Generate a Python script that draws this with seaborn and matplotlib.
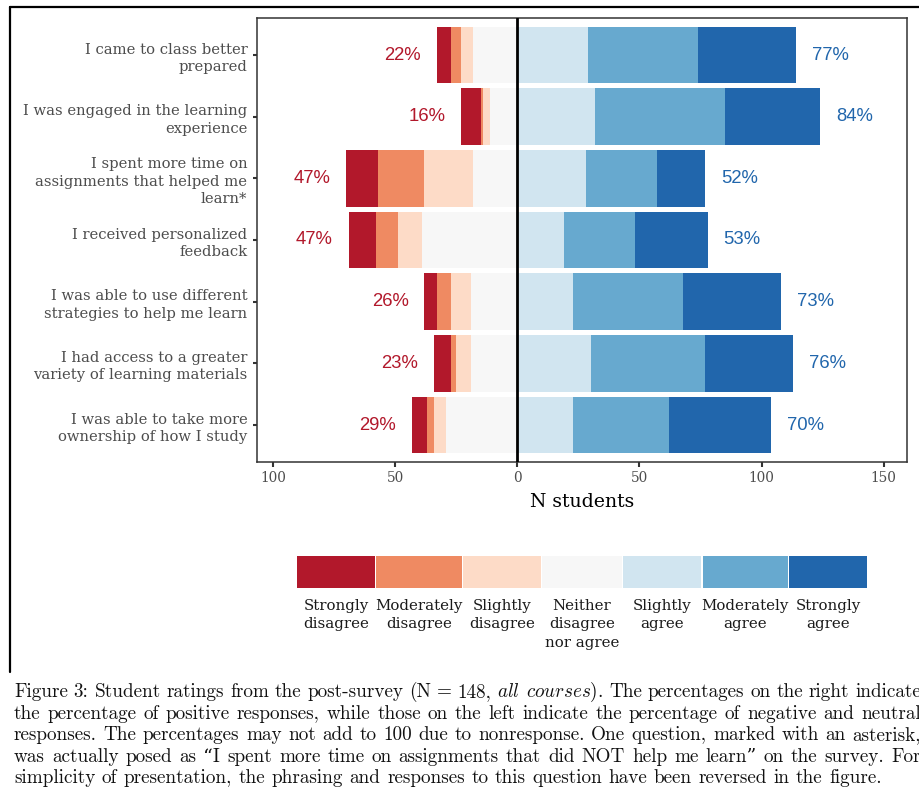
import numpy as np
import pandas as pd
import matplotlib
matplotlib.use("Agg")
import matplotlib.pyplot as plt
import seaborn as sns
from matplotlib.lines import Line2D
from matplotlib.patches import Rectangle

# ---------------- data ----------------
questions = [
    "I came to class better\nprepared",
    "I was engaged in the learning\nexperience",
    "I spent more time on\nassignments that helped me\nlearn*",
    "I received personalized\nfeedback",
    "I was able to use different\nstrategies to help me learn",
    "I had access to a greater\nvariety of learning materials",
    "I was able to take more\nownership of how I study",
]
levels = ["Strongly\ndisagree", "Moderately\ndisagree", "Slightly\ndisagree",
          "Neither\ndisagree\nnor agree", "Slightly\nagree", "Moderately\nagree",
          "Strongly\nagree"]
level_colors = ["#B2182B", "#EF8A62", "#FDDBC7", "#F7F7F7", "#D1E5F0", "#67A9CF", "#2166AC"]

strongly_disagree = [6, 8, 13, 11, 5, 7, 6]
moderately_disagree = [4, 1, 19, 9, 6, 2, 3]
slightly_disagree = [5, 3, 20, 10, 8, 6, 5]
neutral = [18, 11, 18, 39, 19, 19, 29]
slightly_agree = [29, 32, 28, 19, 23, 30, 23]
moderately_agree = [45, 53, 29, 29, 45, 47, 39]
strongly_agree = [40, 39, 20, 30, 40, 36, 42]

neg_pct_labels = ["22%", "16%", "47%", "47%", "26%", "23%", "29%"]
pos_pct_labels = ["77%", "84%", "52%", "53%", "73%", "76%", "70%"]

x_ticks = [-100, -50, 0, 50, 100, 150]
x_tick_labels = ["100", "50", "0", "50", "100", "150"]
x_title = "N students"

caption_lines = [
    "Figure 3: Student ratings from the post-survey (N = 148, $\\mathit{all}$ $\\mathit{courses}$). The percentages on the right indicate",
    "the percentage of positive responses, while those on the left indicate the percentage of negative and neutral",
    "responses. The percentages may not add to 100 due to nonresponse. One question, marked with an asterisk,",
    "was actually posed as \u201cI spent more time on assignments that did NOT help me learn\u201d on the survey. For",
    "simplicity of presentation, the phrasing and responses to this question have been reversed in the figure.",
]

# ---------------- frame ----------------
W, H = 919, 793
sns.set_theme(style="white")
plt.rcParams["mathtext.fontset"] = "cm"
plt.rcParams["font.family"] = ["DejaVu Serif"]

fig = plt.figure(figsize=(W / 100, H / 100), dpi=100)
fig.patch.set_facecolor("white")

ax_l, ax_r, ax_t, ax_b = 257, 907, 18, 462
ax = fig.add_axes([ax_l / W, 1 - ax_b / H, (ax_r - ax_l) / W, (ax_b - ax_t) / H])

df = pd.DataFrame({
    "question": questions,
    "sd": strongly_disagree, "md": moderately_disagree, "sl": slightly_disagree,
    "ne": neutral, "sa": slightly_agree, "ma": moderately_agree, "st": strongly_agree,
})
# cumulative extents, drawn from the outermost segment inward
df["l4"] = -(df["ne"] + df["sl"] + df["md"] + df["sd"])
df["l3"] = -(df["ne"] + df["sl"] + df["md"])
df["l2"] = -(df["ne"] + df["sl"])
df["l1"] = -df["ne"]
df["r3"] = df["sa"] + df["ma"] + df["st"]
df["r2"] = df["sa"] + df["ma"]
df["r1"] = df["sa"]

layers = [("l4", level_colors[0]), ("l3", level_colors[1]), ("l2", level_colors[2]),
          ("l1", level_colors[3]), ("r3", level_colors[6]), ("r2", level_colors[5]),
          ("r1", level_colors[4])]
for col, c in layers:
    sns.barplot(data=df, x=col, y="question", orient="h", color=c, saturation=1,
                width=0.92, errorbar=None, linewidth=0, ax=ax)

ax.axvline(0, color="black", lw=2, zorder=5)

for i in range(len(questions)):
    ax.text(df["l4"][i] - 14, i, neg_pct_labels[i], ha="center", va="center",
            color="#B2182B", fontsize=13.3, family="Liberation Sans")
    ax.text(df["r3"][i] + 14, i, pos_pct_labels[i], ha="center", va="center",
            color="#2166AC", fontsize=13.3, family="Liberation Sans")

ax.set_xlim(-106.5, 159.5)
ax.set_ylim(6.6, -0.6)
ax.set_xticks(x_ticks)
ax.set_xticklabels(x_tick_labels)
ax.set_xlabel(x_title, fontsize=13.6, color="black", labelpad=6)
ax.set_ylabel("")
for lab in ax.get_yticklabels():
    lab.set_multialignment("right")
    lab.set_linespacing(1.32)
ax.tick_params(axis="y", length=3, width=1.5, color="#333333", labelcolor="#4D4D4D",
               labelsize=10.6, pad=4, left=True)
ax.tick_params(axis="x", length=3.5, width=1.5, color="#333333", labelcolor="#4D4D4D",
               labelsize=9.8, pad=3, bottom=True)
for s in ax.spines.values():
    s.set_color("#333333")
    s.set_linewidth(1.1)
ax.grid(False)

# ---------------- legend (keys with labels underneath) ----------------
key_widths = [78, 85.5, 77.6, 79.9, 78.1, 85.2, 77.7]
key_gap = 1.3
leg_l, leg_t, leg_b = 297, 556, 588
total_w = sum(key_widths) + key_gap * (len(key_widths) - 1)
lax = fig.add_axes([leg_l / W, 1 - leg_b / H, total_w / W, (leg_b - leg_t) / H])
lax.set_xlim(0, total_w)
lax.set_ylim(0, 1)
lax.axis("off")
x0 = 0
for w, c, lab in zip(key_widths, level_colors, levels):
    lax.add_patch(Rectangle((x0, 0), w, 1, facecolor=c, edgecolor="none"))
    fig.text((leg_l + x0 + w / 2) / W, 1 - 599 / H, lab, ha="center", va="top",
             fontsize=10.8, color="#1A1A1A", linespacing=1.4, multialignment="center")
    x0 += w + key_gap

# ---------------- outer frame ----------------
fig.add_artist(Line2D([10 / W, 1], [1 - 7 / H, 1 - 7 / H], transform=fig.transFigure,
                      color="black", lw=1.6))
fig.add_artist(Line2D([10 / W, 10 / W], [1 - 7 / H, 1 - 672 / H], transform=fig.transFigure,
                      color="black", lw=1.6))

# ---------------- caption (justified, runs past the right edge as in the source) ----------------
fig.canvas.draw()
renderer = fig.canvas.get_renderer()
cap_fs = 13.8
cap_left, cap_right = 14, 921
cap_base0, cap_step = 697, 21.6
for li, line in enumerate(caption_lines):
    words = line.split(" ")
    texts = [fig.text(0, 1 - (cap_base0 + li * cap_step) / H, w, fontsize=cap_fs,
                      family=["cmr10", "DejaVu Serif"], va="baseline", ha="left",
                      color="#111111") for w in words]
    widths = [t.get_window_extent(renderer).width for t in texts]
    if li < len(caption_lines) - 1:
        gap = (cap_right - cap_left - sum(widths)) / (len(words) - 1)
    else:
        gap = cap_fs * 100 / 72 * 0.34
    x = cap_left
    for t, w in zip(texts, widths):
        t.set_x(x / W)
        x += w + gap

fig.savefig("out.png", dpi=100, facecolor="white")
